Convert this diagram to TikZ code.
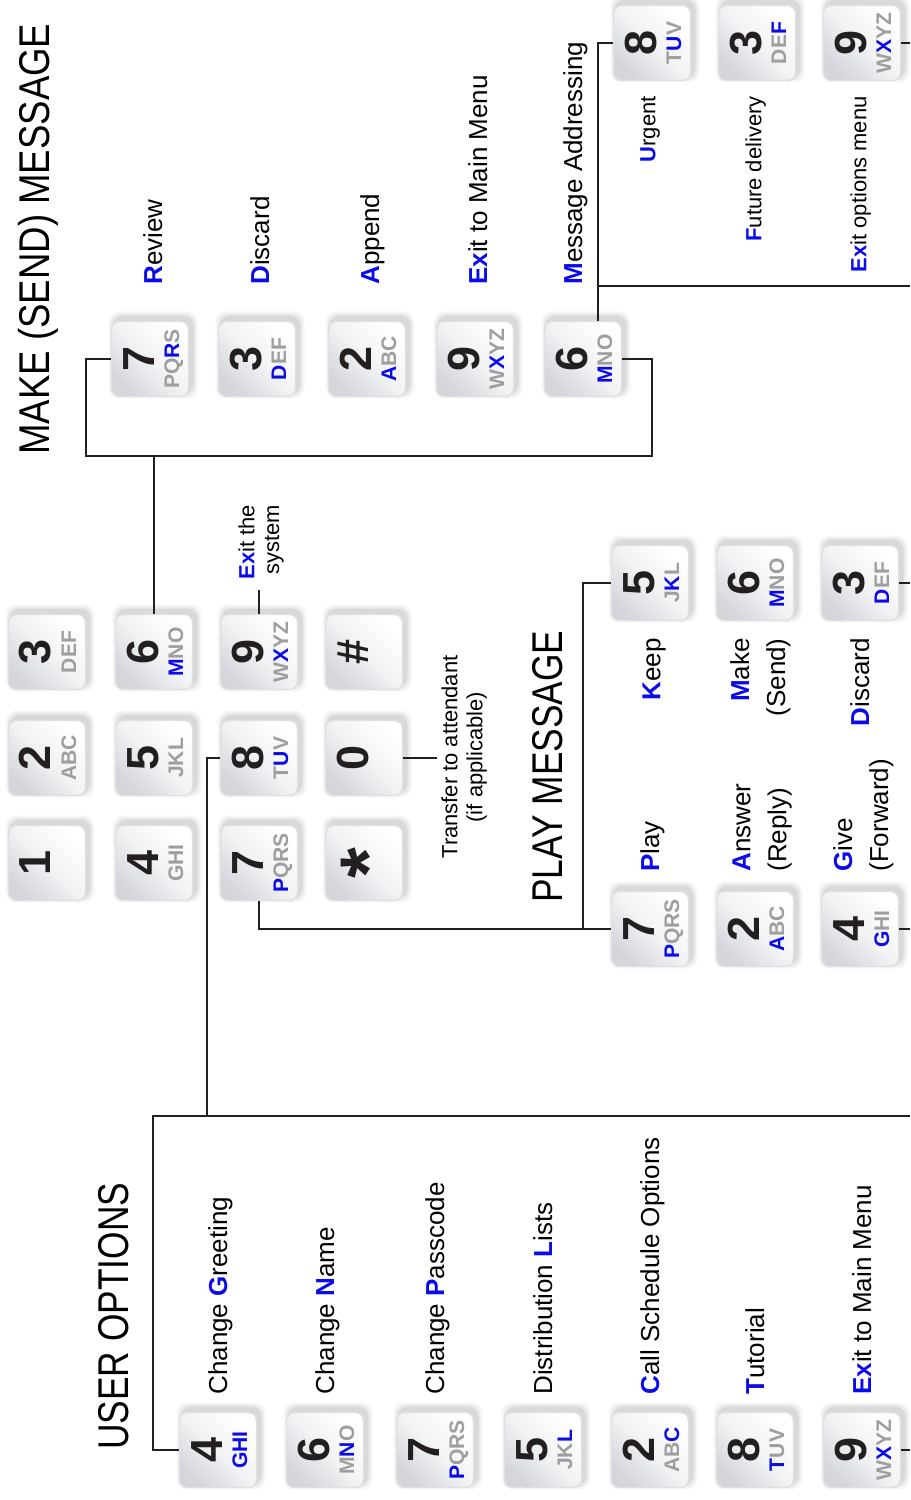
\documentclass[tikz,border=0pt]{standalone}
\usepackage{fontspec}
\setmainfont{Liberation Sans}
\newfontfamily\titlefont[FakeStretch=0.82]{Liberation Sans}
\newfontfamily\widetitlefont[FakeStretch=0.85]{Liberation Sans}
\usetikzlibrary{calc}
\definecolor{keyblue}{RGB}{10,10,235}
\definecolor{keygrey}{RGB}{158,158,158}
\definecolor{keyshade}{RGB}{212,214,220}
\definecolor{ink}{RGB}{35,31,32}
\newcommand{\hl}[1]{{\bfseries\color{keyblue}#1}}
\newcommand{\phonekey}[4]{%
  \foreach \s/\o in {6/0.035,4/0.05,2/0.07} {
    \fill[black, opacity=\o, rounded corners=6pt]
      ($(#2)+(3-38.5-\s,-4-37.5-\s)$) rectangle ($(#2)+(3+38.5+\s,-4+37.5+\s)$);
  }
  \node[keybox] (#1) at (#2) {};
  \node[keydigit, anchor=base] at ($(#2)+(4,0)$) {#3};
  \node[keyletters, anchor=base] at ($(#2)+(29,0)$) {#4};
}

\begin{document}
\begin{tikzpicture}[x=0.02cm,y=-0.02cm]
\tikzstyle{every node}+=[inner sep=0pt]
\tikzstyle{keybox}=[draw=white!88!black, line width=0.8pt, rounded corners=4.5pt,
  minimum width=1.54cm, minimum height=1.5cm,
  top color=white, bottom color=keyshade, middle color=white!70!keyshade, shading angle=-45]
\tikzstyle{keydigit}=[rotate=90, text=ink, font=\fontsize{25.6}{25.6}\selectfont\bfseries]
\tikzstyle{keyletters}=[rotate=90, text=keygrey, font=\fontsize{12}{12}\selectfont\bfseries]
\tikzstyle{lbl}=[rotate=90, font=\fontsize{14.8}{20.5}\selectfont]
\tikzstyle{smalllbl}=[rotate=90, font=\fontsize{12.5}{14.2}\selectfont]
\tikzstyle{title}=[rotate=90, anchor=base west, font=\titlefont\fontsize{24.5}{24.5}\selectfont]
\tikzstyle{wire}=[ink, line width=1.4pt]
\useasboundingbox (0,0) rectangle (910,1500);
\coordinate (edge) at (910,0);

\node[title, font=\widetitlefont\fontsize{24.5}{24.5}\selectfont] (sendtitle) at (49,455) {MAKE (SEND) MESSAGE};
\node[title] (usertitle) at (128,1450) {USER OPTIONS};
\node[title] (playtitle) at (562,903) {PLAY MESSAGE};

\phonekey{m3}{47,652}{3}{DEF}
\phonekey{m2}{47,758}{2}{ABC}
\phonekey{m1}{47,863}{1}{}
\phonekey{m6}{154,652}{6}{\hl{M}NO}
\phonekey{m5}{154,758}{5}{JKL}
\phonekey{m4}{154,863}{4}{GHI}
\phonekey{m9}{259,652}{9}{W\hl{X}YZ}
\phonekey{m8}{259,758}{8}{T\hl{U}V}
\phonekey{m7}{259,863}{7}{\hl{P}QRS}
\phonekey{mhash}{364,652}{\#}{}
\phonekey{m0}{364,758}{0}{}
\phonekey{mstar}{364,863}{{\fontsize{45}{45}\selectfont\raisebox{-0.35em}{*}}}{}

\phonekey{s7}{150,359}{7}{PQ\hl{R}S}
\phonekey{s3}{257,359}{3}{\hl{D}EF}
\phonekey{s2}{367,359}{2}{\hl{A}BC}
\phonekey{s9}{475,359}{9}{W\hl{X}YZ}
\phonekey{s6}{583,359}{6}{\hl{M}NO}

\phonekey{a8}{652,43}{8}{T\hl{U}V}
\phonekey{a3}{757,43}{3}{DE\hl{F}}
\phonekey{a9}{862,43}{9}{W\hl{X}YZ}

\phonekey{p5}{650,583}{5}{J\hl{K}L}
\phonekey{p6}{755,583}{6}{\hl{M}NO}
\phonekey{p3}{860,583}{3}{\hl{D}EF}
\phonekey{p7}{650,929}{7}{\hl{P}QRS}
\phonekey{p2}{755,929}{2}{\hl{A}BC}
\phonekey{p4}{860,929}{4}{\hl{G}HI}

\phonekey{u4}{218,1450}{4}{\hl{GHI}}
\phonekey{u6}{325,1450}{6}{M\hl{N}O}
\phonekey{u7}{435,1450}{7}{\hl{P}QRS}
\phonekey{u5}{543,1450}{5}{JK\hl{L}}
\phonekey{u2}{650,1450}{2}{AB\hl{C}}
\phonekey{u8}{755,1450}{8}{\hl{T}UV}
\phonekey{u9}{862,1450}{9}{W\hl{X}YZ}

\node[lbl, anchor=north west] (review) at (143,285) {\hl{R}eview};
\node[lbl, anchor=north west] (senddiscard) at (250,285) {\hl{D}iscard};
\node[lbl, anchor=north west] (append) at (360,285) {\hl{A}ppend};
\node[lbl, anchor=north west] (sendexit) at (468,285) {\hl{Ex}it to Main Menu};
\node[lbl, anchor=north west] (addressing) at (563,285) {\hl{M}essage Addressing};

\node[smalllbl, anchor=north east] (urgent) at (640,96) {\hl{U}rgent};
\node[smalllbl, anchor=north east] (future) at (745,96) {\hl{F}uture delivery};
\node[smalllbl, anchor=north east] (optexit) at (850,96) {\hl{Ex}it options menu};

\node[lbl, anchor=north east] (keep) at (642,638) {\hl{K}eep};
\node[lbl, anchor=north east, align=right] (make) at (730,638) {\hl{M}ake\\(Send)};
\node[lbl, anchor=north east] (playdiscard) at (850,638) {\hl{D}iscard};
\node[lbl, anchor=north west] (play) at (640,872) {\hl{P}lay};
\node[lbl, anchor=north west, align=left] (answer) at (732,872) {\hl{A}nswer\\(Reply)};
\node[lbl, anchor=north west, align=left] (give) at (833,872) {\hl{G}ive\\(Forward)};

\node[lbl, anchor=north west] (greeting) at (208,1395) {Change \hl{G}reeting};
\node[lbl, anchor=north west] (name) at (315,1395) {Change \hl{N}ame};
\node[lbl, anchor=north west] (passcode) at (425,1395) {Change \hl{P}asscode};
\node[lbl, anchor=north west] (lists) at (533,1395) {Distribution \hl{L}ists};
\node[lbl, anchor=north west] (schedule) at (640,1395) {\hl{C}all Schedule Options};
\node[lbl, anchor=north west] (tutorial) at (745,1395) {\hl{T}utorial};
\node[lbl, anchor=north west] (userexit) at (852,1395) {\hl{Ex}it to Main Menu};

\node[smalllbl, anchor=north east, align=right, outer xsep=5.7pt] (exitsys) at (238,495) {\hl{Ex}it the\\system};
\node[smalllbl, anchor=north, align=center, outer ysep=2.5pt] (transfer) at (437,757) {Transfer to attendant\\(if applicable)};

\coordinate (sendL) at (86,456);
\coordinate (sendR) at (652,456);
\draw[wire] (s7.west) -| (sendL) -- (sendR) |- (s6.east);
\draw[wire] (m6.north) -- (m6.north |- sendL);
\coordinate (addrtap) at (598,286);
\draw[wire] ($(s6.north)+(15,0)$) |- (a8.west);
\draw[wire] (addrtap) -- (addrtap -| edge);
\draw[wire] (a9.east) -- (a9.east -| edge);
\draw[wire] (m9.north) -- (m9.north |- exitsys.west);
\draw[wire] (m0.east) -- (m0.east -| transfer.north);
\coordinate (userbar) at (207,1116);
\coordinate (userL) at (153,1116);
\draw[wire] (m8.west) -| (userbar);
\draw[wire] (u4.west) -| (userL) -- (userL -| edge);
\draw[wire] (u9.east) -- (u9.east -| edge);
\coordinate (playbar) at (583,929);
\draw[wire] (m7.south) |- (p7.west);
\draw[wire] (p5.west) -| (playbar);
\draw[wire] (p3.east) -- (p3.east -| edge);
\draw[wire] (p4.east) -- (p4.east -| edge);
\end{tikzpicture}
\end{document}
